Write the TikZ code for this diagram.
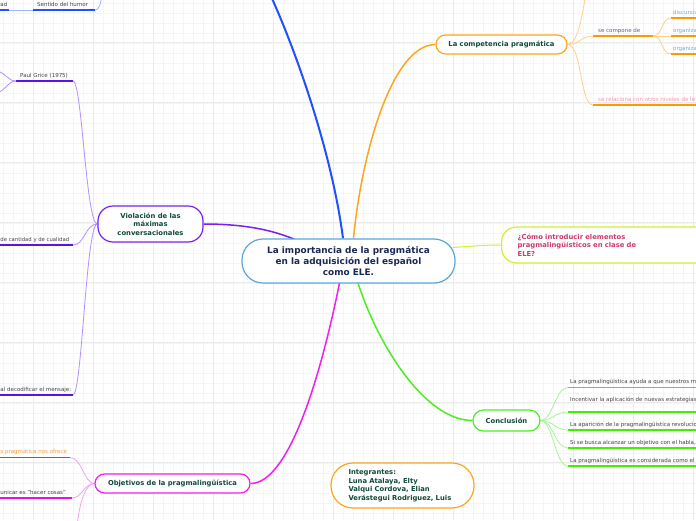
\documentclass[tikz,border=0pt]{standalone}
\usepackage{fontspec}
\setmainfont{DejaVu Sans}
\definecolor{bluec}{HTML}{2050FF}
\definecolor{bluelight}{HTML}{A0B4FF}
\definecolor{purplec}{HTML}{7A1FF0}
\definecolor{purplelight}{HTML}{B590FF}
\definecolor{purpledark}{HTML}{5A14E0}
\definecolor{magentac}{HTML}{F01EF0}
\definecolor{magentalight}{HTML}{F7A0F7}
\definecolor{magentadark}{HTML}{E414E4}
\definecolor{orangec}{HTML}{FFA41E}
\definecolor{orangelight}{HTML}{FFD08A}
\definecolor{orangedark}{HTML}{FF9900}
\definecolor{yellowc}{HTML}{D0F030}
\definecolor{greenc}{HTML}{4CEE22}
\definecolor{greenlight}{HTML}{A6F59A}
\definecolor{greendark}{HTML}{44EE00}
\definecolor{centralc}{HTML}{5AA6DC}
\definecolor{centraltext}{HTML}{1B2754}
\definecolor{nodetext}{HTML}{0F4A3A}
\definecolor{pinkc}{HTML}{D0386A}
\definecolor{lblgray}{HTML}{444444}
\definecolor{lblblue}{HTML}{6AAEE0}
\definecolor{lblslate}{HTML}{556688}
\definecolor{lblpink}{HTML}{FF8FB0}
\definecolor{lblorange}{HTML}{F5A040}
\pgfdeclarelayer{gridlayer}
\pgfdeclarelayer{edges}
\pgfsetlayers{gridlayer,edges,main}
\begin{document}
\begin{tikzpicture}[x=1pt,y=-1pt,
  gridminor/.style={draw=black!4, line width=0.4},
  gridmajor/.style={draw=black!8, line width=0.5},
  mainnode/.style={draw, fill=white, line width=1.2, text=nodetext, align=center, inner sep=0pt,
    font=\bfseries\fontsize{6.8}{8.5}\selectfont},
  lbl/.style={font=\fontsize{5.5}{6.5}\selectfont, text=lblgray, inner sep=0pt},
  uline/.style={line width=1.6},
  sub/.style={line width=0.8},
  branch/.style={line width=1.5}]
\useasboundingbox (0,0) rectangle (696,520);
\begin{pgfonlayer}{gridlayer}
\clip (0,0) rectangle (696,520);
\fill[white] (0,0) rectangle (696,520);
\foreach \i in {0,...,69} \draw[gridminor] ({3.3+10*\i},0) -- ({3.3+10*\i},520);
\foreach \i in {0,...,52} \draw[gridminor] (0,{2.7+10*\i}) -- (696,{2.7+10*\i});
\foreach \i in {0,...,11} \draw[gridmajor] ({33.3+60*\i},0) -- ({33.3+60*\i},520);
\foreach \i in {0,...,8} \draw[gridmajor] (0,{42.7+60*\i}) -- (696,{42.7+60*\i});
\end{pgfonlayer}
\clip (0,0) rectangle (696,520);

% main nodes
\node[mainnode, draw=centralc, minimum width=213, minimum height=44, rounded corners=21,
  text=centraltext, font=\bfseries\fontsize{8.9}{11}\selectfont] (c) at (348.5,261)
  {La importancia de la pragmática\\en la adquisición del español\\como ELE.};
\node[mainnode, draw=purplec, minimum width=105, minimum height=36, rounded corners=15] (v) at (150.5,224)
  {Violación de las\\máximas\\conversacionales};
\node[mainnode, draw=magentac, minimum width=155, minimum height=19, rounded corners=9.5] (o) at (172.5,483.5)
  {Objetivos de la pragmalingüística};
\node[mainnode, draw=orangec, minimum width=131, minimum height=19, rounded corners=9.5] (k) at (501.5,44.5)
  {La competencia pragmática};
\node[mainnode, draw=yellowc, anchor=west, minimum height=36, rounded corners=15, text=pinkc,
  align=left, text width=184, inner xsep=16] (q) at (501,245)
  {¿Cómo introducir elementos\\pragmalingüísticos en clase de\\ELE?};
\node[mainnode, draw=greenc, minimum width=67, minimum height=21, rounded corners=10.5] (cc) at (506.5,420.5)
  {Conclusión};
\node[mainnode, draw=orangec, minimum width=143, minimum height=45, rounded corners=22,
  align=left, text width=108, inner xsep=17.5] (ig) at (402.5,485.5)
  {Integrantes:\\Luna Atalaya, Elty\\Valqui Cordova, Elian\\Verástegui Rodriguez, Luis};

% coordinates
\coordinate (bt) at (270,-6);
\coordinate (sh1) at (33,10);
\coordinate (sh2) at (95,10);
\coordinate (shp) at (102,-6);
\coordinate (ad1) at (-5,10);
\coordinate (ad2) at (9,10);
\coordinate (pg1) at (16,81);
\coordinate (pg2) at (73,81);
\coordinate (pgu) at (-3,71);
\coordinate (pgd) at (-3,93);
\coordinate (cq1) at (-5,245);
\coordinate (cq2) at (73,245);
\coordinate (dm1) at (-5,395);
\coordinate (dm2) at (73,395);
\coordinate (ob1s) at (-5,457.5);
\coordinate (ob1e) at (70,457.5);
\coordinate (ob2s) at (-5,498);
\coordinate (ob2e) at (72,498);
\coordinate (ob3) at (77,526);
\coordinate (kup) at (586,-6);
\coordinate (sc1) at (593,36);
\coordinate (sc2) at (653,36);
\coordinate (rl1) at (593,105);
\coordinate (rl2) at (700,105);
\coordinate (d1s) at (671,18);
\coordinate (d1e) at (700,18);
\coordinate (d2s) at (671,36);
\coordinate (d2e) at (700,36);
\coordinate (d3s) at (671,54);
\coordinate (d3e) at (700,54);
\foreach \n/\y in {1/387.5,2/412,3/430,4/448,5/466}{
  \coordinate (g\n s) at (568,\y);
  \coordinate (g\n e) at (700,\y);
}

% labels
\node[lbl, anchor=base west] (shl) at (37,6.2) {Sentido del humor};
\node[lbl, anchor=base west] (adl) at (0.3,6.2) {ad};
\node[lbl, anchor=base west] (pgl) at (20,77.2) {Paul Grice (1975)};
\node[lbl, anchor=base west, font=\fontsize{5.3}{6.3}\selectfont] (cql) at (0.3,241.2) {de cantidad y de cualidad};
\node[lbl, anchor=base west] (dml) at (0.3,391) {al decodificar el mensaje:};
\node[lbl, anchor=base west, text=lblorange] (ob1l) at (0.3,453.5) {s pragmática nos ofrece};
\node[lbl, anchor=base west] (ob2l) at (0.3,494) {unicar es "hacer cosas"};
\node[lbl, anchor=base west, text=lblslate] (scl) at (598,32.2) {se compone de};
\node[lbl, anchor=base west, text=lblpink] (rll) at (598,101) {se relaciona con otros niveles de le};
\node[lbl, anchor=base west, text=lblblue] (d1l) at (673,14.2) {discursiv};
\node[lbl, anchor=base west, text=lblblue] (d2l) at (673,32.2) {organiza};
\node[lbl, anchor=base west, text=lblblue] (d3l) at (673,50.2) {organiza};
\node[lbl, anchor=base west] (g1l) at (570,383.7) {La pragmalingüística ayuda a que nuestros m};
\node[lbl, anchor=base west] (g2l) at (570,401.5) {Incentivar la aplicación de nuevas estrategias};
\node[lbl, anchor=base west] (g3l) at (570,426.2) {La aparición de la pragmalingüística revolucio};
\node[lbl, anchor=base west] (g4l) at (570,444.2) {Si se busca alcanzar un objetivo con el habla,};
\node[lbl, anchor=base west] (g5l) at (570,462.2) {La pragmalingüística es considerada como el};

\begin{pgfonlayer}{edges}
\clip (0,0) rectangle (696,520);
% main branches
\draw[bluec, line width=2] ([xshift=-5.5]c.north) .. controls (333,160) and (300,60) .. (bt);
\draw[purplec, branch] (v.east) .. controls (245,224) and (272,230) .. (295,239.5);
\draw[magentac, branch] (o.east) .. controls (290,483.5) and (322,370) .. (339.5,283);
\draw[orangec, branch] ([xshift=5]c.north) .. controls (362,150) and (393,44.5) .. (k.west);
\draw[greenc, branch] (358,283) .. controls (378,345) and (425,420.5) .. (cc.west);
\draw[yellowc, line width=1] (452.5,247.5) .. controls (475,246) and (485,245) .. (q.west);

% blue children
\draw[uline, bluec] (sh1) -- (sh2);
\draw[uline, bluec] (ad1) -- (ad2);
\draw[sub, bluelight] (sh1) -- (ad2);
\draw[sub, bluelight] (sh2) .. controls (99,10) and (101,4) .. (shp);

% purple children
\draw[uline, purpledark] (pg1) -- (pg2);
\draw[uline, purpledark] (cq1) -- (cq2);
\draw[uline, purpledark] (dm1) -- (dm2);
\draw[sub, purplelight] (v.west) .. controls (86,224) and (82,81) .. (pg2);
\draw[sub, purplelight] (v.west) .. controls (85,224) and (85,245) .. (cq2);
\draw[sub, purplelight] (v.west) .. controls (86,224) and (82,395) .. (dm2);
\draw[sub, purplelight] (pg1) .. controls (8,81) and (6,73) .. (pgu);
\draw[sub, purplelight] (pg1) .. controls (8,81) and (6,90) .. (pgd);

% magenta children
\draw[uline, magentadark] (ob1s) -- (ob1e);
\draw[uline, magentadark] (ob2s) -- (ob2e);
\draw[sub, magentalight] (o.west) .. controls (84,483.5) and (82,457.5) .. (ob1e);
\draw[sub, magentalight] (o.west) .. controls (84,483.5) and (82,498) .. (ob2e);
\draw[sub, magentalight] (o.west) .. controls (86,483.5) and (80,500) .. (ob3);

% orange children
\draw[sub, orangelight] (k.east) .. controls (578,44.5) and (582,15) .. (kup);
\draw[sub, orangelight] (k.east) .. controls (580,44.5) and (581,36) .. (sc1);
\draw[sub, orangelight] (k.east) .. controls (582,44.5) and (580,105) .. (rl1);
\draw[uline, orangedark] (sc1) -- (sc2);
\draw[uline, orangedark] (rl1) -- (rl2);
\draw[sub, orangelight] (sc2) .. controls (663,36) and (661,18) .. (d1s);
\draw[sub, orangelight] (sc2) -- (d2s);
\draw[sub, orangelight] (sc2) .. controls (663,36) and (661,54) .. (d3s);
\draw[uline, orangedark] (d1s) -- (d1e);
\draw[uline, orangedark] (d2s) -- (d2e);
\draw[uline, orangedark] (d3s) -- (d3e);

% green children
\foreach \n/\y in {1/387.5,2/412,3/430,4/448,5/466}{
  \draw[sub, greenlight] (cc.east) .. controls (553,420.5) and (555,\y) .. (g\n s);
  \draw[uline, greendark] (g\n s) -- (g\n e);
}
\end{pgfonlayer}
\end{tikzpicture}
\end{document}
